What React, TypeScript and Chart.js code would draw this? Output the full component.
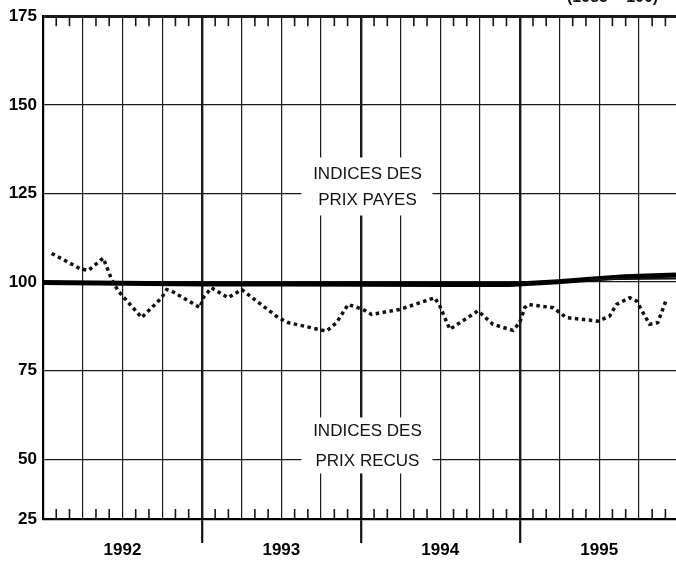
import React, { useEffect, useRef } from "react";
import { Chart, registerables } from "chart.js";

Chart.register(...registerables);

// ---- data (months counted from January 1992) ----
const yearLabels = ["1992", "1993", "1994", "1995"];
const yTickValues = [25, 50, 75, 100, 125, 150, 175];
// the printed value axis is broken: its bottom line (labelled 25) sits closer to 50
const yAxisFloor = 33.2;
const yMax = 175;
const monthsShown = 47.8;

const paidMonths = [0, 6, 12, 18, 24, 30, 35.2, 38.9, 41.3, 43.9, 47.8];
const paidValues = [99.9, 99.7, 99.5, 99.5, 99.4, 99.3, 99.3, 100.1, 100.8, 101.5, 102.0];

const paidAltMonths = [41.3, 43.9, 47.8];
const paidAltValues = [100.8, 100.9, 101.0];

const recvMonths = [
  0.66, 2.79, 3.42, 4.55, 5.18, 5.68, 7.45, 8.96, 9.34, 9.71, 11.85, 12.1, 12.73,
  13.98, 15.0, 17.76, 18.5, 20.78, 21.41, 22.17, 23.04, 24.17, 24.8, 26.94, 29.58,
  29.96, 30.72, 32.85, 33.98, 35.49, 36.0, 36.38, 36.63, 38.51, 39.52, 41.91, 42.79,
  43.3, 44.3, 44.81, 45.81, 46.43, 47.07,
];
const recvValues = [
  108.1, 103.8, 103.3, 106.8, 100.8, 97.5, 90.0, 95.6, 97.9, 97.5, 92.8, 95.6, 98.4,
  95.6, 97.9, 90.0, 88.6, 86.7, 86.2, 88.6, 93.7, 92.3, 90.9, 92.3, 95.6,
  93.3, 86.7, 91.9, 88.1, 86.4, 88.6, 92.8, 93.7, 92.8, 90.0, 89.0, 90.4,
  93.7, 95.6, 94.7, 88.1, 88.6, 95.1,
];

const paidLabel = ["INDICES DES", "PRIX PAYES"];
const recvLabel = ["INDICES DES", "PRIX RECUS"];
const baseNote = "(1985 = 100)";

const FONT = "'Liberation Sans', Arial, Helvetica, sans-serif";

const overlayPlugin = {
  id: "overlay",
  beforeDatasetsDraw(chart: any) {
    const { ctx, chartArea: a, scales } = chart;
    const x = scales.x;
    const y = scales.y;
    ctx.save();
    // monthly tick marks, top and bottom
    ctx.strokeStyle = "#151515";
    ctx.lineWidth = 1.6;
    for (let m = 1; m < 60; m++) {
      if (m % 3 === 0) continue;
      const px = x.getPixelForValue(m);
      if (px > a.right) break;
      ctx.beginPath();
      ctx.moveTo(px, a.top);
      ctx.lineTo(px, a.top + 10);
      ctx.stroke();
      ctx.beginPath();
      ctx.moveTo(px, a.bottom);
      ctx.lineTo(px, a.bottom - 10);
      ctx.stroke();
    }
    // label boxes
    const cx = x.getPixelForValue(24.5);
    const box = (lines: string[], top: number, bottom: number, ys: number[]) => {
      ctx.fillStyle = "#ffffff";
      ctx.fillRect(cx - 66, top, 131, bottom - top);
      ctx.fillStyle = "#111111";
      ctx.font = `17px ${FONT}`;
      ctx.textAlign = "center";
      ctx.textBaseline = "middle";
      lines.forEach((t, i) => ctx.fillText(t, cx, ys[i]));
    };
    const y125 = y.getPixelForValue(125);
    box(paidLabel, y125 - 36, y125 + 22, [y125 - 19, y125 + 7]);
    const y50 = y.getPixelForValue(50);
    box(recvLabel, y50 - 42, y50 + 14, [y50 - 28, y50 + 2]);
    // partially visible base note at the very top
    ctx.fillStyle = "#111111";
    ctx.font = `bold 16px ${FONT}`;
    ctx.textAlign = "left";
    ctx.textBaseline = "alphabetic";
    ctx.fillText(baseNote, 567, 2);
    ctx.restore();
  },
};

export default function App() {
  const ref = useRef<HTMLCanvasElement | null>(null);

  useEffect(() => {
    if (!ref.current) return;
    const chart = new Chart(ref.current, {
      type: "line",
      data: {
        datasets: [
          {
            label: "recus",
            data: recvMonths.map((m, i) => ({ x: m, y: recvValues[i] })),
            borderColor: "#111111",
            borderWidth: 3.5,
            borderDash: [3.5, 3.5],
            borderCapStyle: "butt",
            pointRadius: 0,
            tension: 0,
            fill: false,
          },
          {
            label: "payes2",
            data: paidAltMonths.map((m, i) => ({ x: m, y: paidAltValues[i] })),
            borderColor: "#111111",
            borderWidth: 2,
            pointRadius: 0,
            tension: 0,
            fill: false,
          },
          {
            label: "payes",
            data: paidMonths.map((m, i) => ({ x: m, y: paidValues[i] })),
            borderColor: "#000000",
            borderWidth: 5,
            pointRadius: 0,
            tension: 0,
            fill: false,
          },
        ],
      },
      options: {
        animation: false,
        responsive: false,
        events: [],
        layout: { padding: { top: 14, right: 0, left: 0, bottom: 0 } },
        plugins: { legend: { display: false }, tooltip: { enabled: false } },
        scales: {
          x: {
            type: "linear",
            min: 0,
            max: monthsShown,
            afterFit: (s: any) => {
              s.height = 66;
            },
            ticks: {
              stepSize: 3,
              includeBounds: false,
              autoSkip: false,
              maxRotation: 0,
              padding: -3,
              color: "#000",
              font: { family: FONT, size: 17, weight: "bold" },
              callback: (v: any) => {
                const n = Math.round(Number(v));
                return n % 12 === 6 ? yearLabels[(n - 6) / 12] : "";
              },
            },
            grid: {
              color: "#1a1a1a",
              lineWidth: (c: any) => {
                const v = c.tick ? Math.round(c.tick.value) : 1;
                if (v === 0) return 0;
                return v % 12 === 0 ? 2.4 : 1.2;
              },
              drawTicks: true,
              tickLength: 24,
              tickWidth: 2.2,
              tickColor: (c: any) => {
                const v = c.tick ? Math.round(c.tick.value) : 1;
                return v > 0 && v % 12 === 0 ? "#111" : "rgba(0,0,0,0)";
              },
            },
            border: { display: true, color: "#000", width: 2.2 },
          },
          y: {
            type: "linear",
            min: yAxisFloor,
            max: yMax,
            afterFit: (s: any) => {
              s.width = 43;
            },
            afterBuildTicks: (s: any) => {
              s.ticks = yTickValues.map((v) => ({ value: v < yAxisFloor ? yAxisFloor : v }));
            },
            ticks: {
              padding: 6,
              color: "#000",
              font: { family: FONT, size: 17, weight: "bold" },
              callback: (v: any) => (Number(v) === yAxisFloor ? String(yTickValues[0]) : String(v)),
            },
            grid: {
              color: "#1a1a1a",
              drawTicks: false,
              lineWidth: (c: any) => {
                const v = c.tick ? c.tick.value : 0;
                if (v === yMax) return 3;
                if (v === yAxisFloor) return 0;
                return 1.3;
              },
            },
            border: { display: true, color: "#000", width: 2.2 },
          },
        },
      },
      plugins: [overlayPlugin],
    } as any);
    return () => chart.destroy();
  }, []);

  return (
    <div style={{ position: "absolute", left: 0, top: 0, width: 676, height: 585, background: "#fff" }}>
      <canvas ref={ref} width={676} height={585} />
    </div>
  );
}
